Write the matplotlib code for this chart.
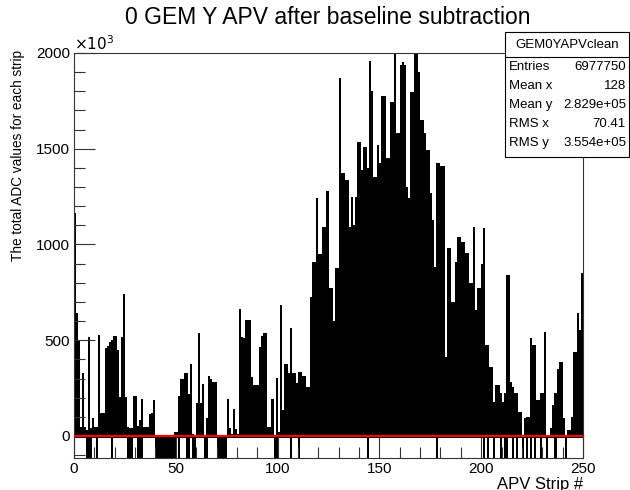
import matplotlib
matplotlib.use("Agg")
import matplotlib.pyplot as plt
from matplotlib.patches import Rectangle
from matplotlib.lines import Line2D
from matplotlib.ticker import MultipleLocator

plt.rcParams['font.family'] = ['Liberation Sans', 'DejaVu Sans']

# highest ADC sum per APV strip (units of 1e3), strips 0..249
strip_top = [
    1164, 642, 501, 47, 329, 47, 30, 517, 40, 94,
    47, 47, 527, 120, 120, 460, 470, 491, 501, 522,
    522, 449, 204, 517, 741, 204, 47, 40, 40, 209,
    209, 50, 84, 193, 47, 47, 47, 115, 120, 188,
    5, 0, 0, 0, 0, 0, 0, 0, 5, 21,
    21, 209, 298, 298, 329, 329, 220, 376, 10, 0,
    172, 538, 172, 271, 0, 94, 313, 297, 282, 282,
    5, 0, 0, 0, 5, 193, 42, 10, 141, 37,
    10, 663, 517, 512, 606, 606, 606, 308, 266, 266,
    266, 465, 522, 538, 538, 47, 47, 193, 0, 303,
    20, 684, 136, 376, 376, 329, 564, 329, 329, 277,
    334, 334, 313, 313, 256, 256, 726, 909, 909, 1243,
    950, 950, 1091, 1091, 1279, 773, 773, 600, 877, 877,
    1869, 1373, 1373, 1337, 1337, 1091, 1248, 1100, 1248, 1535,
    1535, 1389, 1509, 1509, 1400, 1958, 1800, 1352, 1352, 1520,
    1426, 1775, 1775, 1452, 1452, 1744, 1744, 2000, 1582, 1582,
    1937, 1953, 1937, 1300, 1243, 1796, 1796, 2000, 2000, 1900,
    1650, 1650, 1582, 1493, 1493, 1269, 1128, 883, 1426, 1426,
    1410, 1410, 413, 982, 982, 700, 700, 909, 1039, 1039,
    1013, 1013, 955, 955, 800, 800, 1091, 658, 773, 773,
    900, 1086, 475, 475, 360, 360, 178, 266, 266, 225,
    178, 225, 841, 841, 282, 256, 225, 225, 125, 125,
    0, 94, 100, 100, 512, 475, 475, 188, 188, 225,
    225, 543, 0, 0, 40, 162, 225, 350, 386, 386,
    94, 0, 30, 30, 100, 439, 439, 642, 553, 851,
]

# strips whose negative entries run past the bottom of the frame
deep_strips = [6, 7, 8, 11, 18, 26, 27, 28, 31, 32, 33,
               40, 41, 42, 43, 44, 45, 46, 47, 48, 49, 51, 55, 56, 58, 59,
               64, 65, 70, 71, 72, 73, 74, 98, 99, 106, 110, 144, 178,
               201, 203, 206, 209, 211, 212, 215, 217, 220, 222, 224,
               226, 229, 232, 236, 241]

stat_names = ["Entries", "Mean x", "Mean y", "RMS x", "RMS y"]
stat_values = ["6977750", "128", "2.829e+05", "70.41", "3.554e+05"]

W, H = 630, 490
fig = plt.figure(figsize=(W / 100, H / 100), dpi=100)
ax = fig.add_axes([74 / W, 1 - 458 / H, 509 / W, 405 / H])

strips = list(range(len(strip_top)))
bottoms = [-200 if s in deep_strips else -8 for s in strips]
heights = [t - b for t, b in zip(strip_top, bottoms)]
ax.bar(strips, heights, bottom=bottoms, width=1.0, align='edge',
       color='black', linewidth=0)
ax.axhline(0, color='#ff0000', linewidth=1.6, zorder=3)

ax.set_xlim(0, 250)
ax.set_ylim(-115, 2000)
ax.xaxis.set_major_locator(MultipleLocator(50))
ax.xaxis.set_minor_locator(MultipleLocator(10))
ax.yaxis.set_major_locator(MultipleLocator(500))
ax.yaxis.set_minor_locator(MultipleLocator(100))
ax.tick_params(which='both', direction='in', top=False, right=False,
               labelsize=11, color='#333333')
ax.tick_params(which='major', length=15, width=0.8, pad=3)
ax.tick_params(which='minor', length=8, width=0.8)
for sp in ax.spines.values():
    sp.set_linewidth(0.8)
    sp.set_color('#333333')

ax.text(0.0, 1.0, r'$\times10^{3}$', transform=ax.transAxes, fontsize=11,
        ha='left', va='bottom')

fig.text(328 / W, 1 - 18 / H, "0 GEM Y APV after baseline subtraction",
         fontsize=16.5, ha='center', va='center')
fig.text(583 / W, 1 - 484 / H, "APV Strip #", fontsize=12,
         ha='right', va='center')
fig.text(18 / W, 1 - 50 / H, "The total ADC values for each strip",
         fontsize=9.8, rotation=90, ha='center', va='top')

# statistics box
box = Rectangle((505 / W, 1 - 157 / H), 124 / W, 125 / H,
                transform=fig.transFigure, facecolor='white',
                edgecolor='black', linewidth=0.8, zorder=5)
fig.add_artist(box)
fig.add_artist(Line2D([505 / W, 629 / W], [1 - 57 / H, 1 - 57 / H],
                      transform=fig.transFigure, color='black',
                      linewidth=0.8, zorder=6))
fig.text(567 / W, 1 - 45 / H, "GEM0YAPVclean", fontsize=9.5,
         ha='center', va='center', zorder=7)
for i, (name, val) in enumerate(zip(stat_names, stat_values)):
    y = 1 - (67 + 19 * i) / H
    fig.text(509 / W, y, name, fontsize=9.5, ha='left', va='center', zorder=7)
    fig.text(626 / W, y, val, fontsize=9.5, ha='right', va='center', zorder=7)

fig.savefig("out.png", dpi=100)
